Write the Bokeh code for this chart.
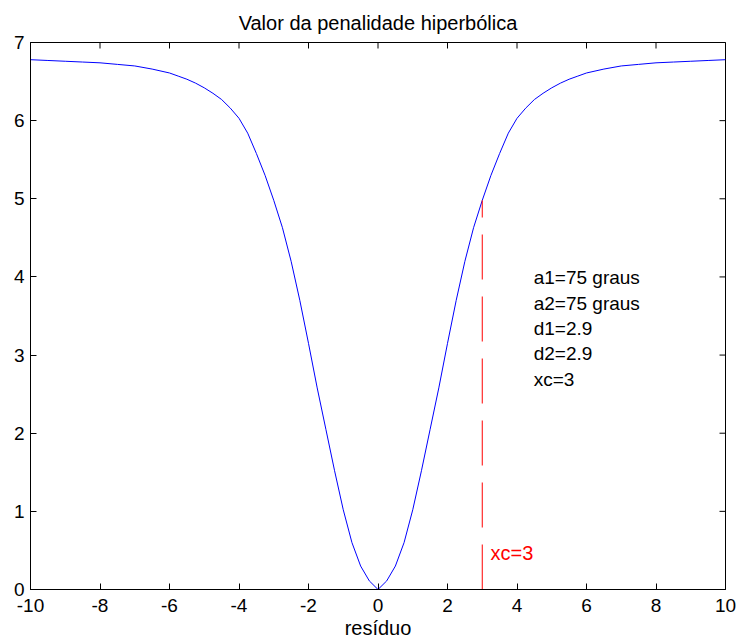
import math
from bokeh.plotting import figure
from bokeh.models import FixedTicker, Range1d, Label
from bokeh.embed import file_html
from bokeh.resources import INLINE

# ---- data ----
x_vals = [-10, -9.5, -9, -8.5, -8, -7.5, -7, -6.5, -6, -5.75, -5.5, -5.25, -5, -4.75,
          -4.5, -4.25, -4, -3.75, -3.5, -3.25, -3, -2.75, -2.5, -2.25, -2, -1.75, -1.5,
          -1.25, -1, -0.75, -0.5, -0.25, 0, 0.25, 0.5, 0.75, 1, 1.25, 1.5, 1.75, 2,
          2.25, 2.5, 2.75, 3, 3.25, 3.5, 3.75, 4, 4.25, 4.5, 4.75, 5, 5.25, 5.5, 5.75,
          6, 6.5, 7, 7.5, 8, 8.5, 9, 9.5, 10]
y_vals = [6.78, 6.77, 6.76, 6.75, 6.74, 6.72, 6.70, 6.66, 6.61, 6.57, 6.53, 6.48, 6.42,
          6.35, 6.27, 6.16, 6.03, 5.84, 5.58, 5.30, 4.98, 4.63, 4.20, 3.70, 3.15, 2.58,
          2.05, 1.52, 1.02, 0.60, 0.30, 0.11, 0.00, 0.11, 0.30, 0.60, 1.02, 1.52, 2.05,
          2.58, 3.15, 3.70, 4.20, 4.63, 4.98, 5.30, 5.58, 5.84, 6.03, 6.16, 6.27, 6.35,
          6.42, 6.48, 6.53, 6.57, 6.61, 6.66, 6.70, 6.72, 6.74, 6.75, 6.76, 6.77, 6.78]

xc = 3
xc_top = 4.98
xc_label = "xc=3"
params = ["a1=75 graus", "a2=75 graus", "d1=2.9", "d2=2.9", "xc=3"]

x_ticks = [-10, -8, -6, -4, -2, 0, 2, 4, 6, 8, 10]
y_ticks = [0, 1, 2, 3, 4, 5, 6, 7]
x_min, x_max = -10, 10
y_min, y_max = 0, 7

title = "Valor da penalidade hiperbólica"
xlabel = "resíduo"

FONT = "Liberation Sans"

p = figure(width=737, height=643, output_backend="svg", toolbar_location=None,
           x_range=Range1d(x_min, x_max), y_range=Range1d(y_min, y_max),
           min_border_left=30, min_border_right=12, min_border_top=42,
           min_border_bottom=54)
p.title.text = title
p.title.align = "center"
p.title.text_font = FONT
p.title.text_font_size = "20px"
p.title.text_font_style = "normal"
p.title.text_color = "black"
p.title.standoff = 18

p.xgrid.visible = False
p.ygrid.visible = False
p.outline_line_color = "black"
p.outline_line_width = 1
p.background_fill_color = "white"
p.border_fill_color = "white"

for ax, ticks in ((p.xaxis[0], x_ticks), (p.yaxis[0], y_ticks)):
    ax.ticker = FixedTicker(ticks=ticks)
    ax.major_label_overrides = {t: str(t) for t in ticks}
    ax.major_tick_in = 6
    ax.major_tick_out = 0
    ax.minor_tick_line_color = None
    ax.axis_line_color = "black"
    ax.major_tick_line_color = "black"
    ax.major_label_text_font = FONT
    ax.major_label_text_color = "black"
    ax.major_label_text_font_size = "19px"

p.xaxis[0].major_label_standoff = 9
p.yaxis[0].major_label_standoff = 6
p.xaxis[0].axis_label = xlabel
p.xaxis[0].axis_label_text_font = FONT
p.xaxis[0].axis_label_text_font_size = "20px"
p.xaxis[0].axis_label_text_font_style = "normal"
p.xaxis[0].axis_label_text_color = "black"
p.xaxis[0].axis_label_standoff = 2

# mirrored inward ticks on the top and right edges (half of each dash is clipped)
p.scatter(x_ticks, [y_max] * len(x_ticks), marker="dash", size=12, angle=math.pi / 2,
          line_color="black", line_width=1)
p.scatter([x_max] * len(y_ticks), y_ticks, marker="dash", size=12,
          line_color="black", line_width=1)

# curve
p.line(x_vals, y_vals, line_color="#0000ff", line_width=1)

# xc marker line
p.line([xc, xc], [0, xc_top], line_color="#ff0000", line_width=1, line_dash="45 17")
p.add_layout(Label(x=3.24, y=0.47, text=xc_label, text_color="#ff0000",
                   text_font=FONT, text_font_size="20px",
                   text_baseline="alphabetic", text_align="left"))

# parameter text block
y0, dy = 3.99, 0.325
for i, t in enumerate(params):
    p.add_layout(Label(x=4.48, y=y0 - i * dy, text=t, text_color="black",
                       text_font=FONT, text_font_size="19px",
                       text_baseline="alphabetic", text_align="left"))

open("out.html", "w").write(file_html(p, INLINE))
